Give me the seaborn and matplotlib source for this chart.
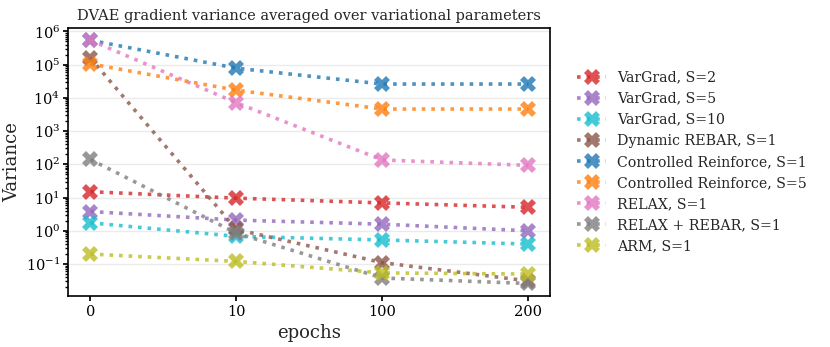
import matplotlib
matplotlib.use("Agg")
import matplotlib.pyplot as plt
import numpy as np
import pandas as pd
import seaborn as sns

epochs = ["0", "10", "100", "200"]

methods = ["VarGrad, S=2", "VarGrad, S=5", "VarGrad, S=10", "Dynamic REBAR, S=1",
           "Controlled Reinforce, S=1", "Controlled Reinforce, S=5", "RELAX, S=1",
           "RELAX + REBAR, S=1", "ARM, S=1"]

vargrad_s2 = [15.0, 9.6, 6.9, 5.1]
vargrad_s5 = [3.8, 2.1, 1.58, 1.0]
vargrad_s10 = [1.74, 0.68, 0.53, 0.40]
dynamic_rebar = [1.58e5, 1.1, 0.11, 0.031]
controlled_s1 = [5.4e5, 7.8e4, 2.6e4, 2.6e4]
controlled_s5 = [1.05e5, 1.7e4, 4.6e3, 4.6e3]
relax = [5.4e5, 7.1e3, 1.35e2, 93]
relax_rebar = [1.4e2, 0.85, 0.038, 0.026]
arm = [0.2, 0.12, 0.054, 0.05]

series = [vargrad_s2, vargrad_s5, vargrad_s10, dynamic_rebar, controlled_s1,
          controlled_s5, relax, relax_rebar, arm]

colors = ["tab:red", "tab:purple", "tab:cyan", "tab:brown", "tab:blue",
          "tab:orange", "tab:pink", "tab:gray", "tab:olive"]

rows = []
for name, vals in zip(methods, series):
    for ep, v in zip(epochs, vals):
        rows.append({"epochs": ep, "Variance": v, "method": name})
df = pd.DataFrame(rows)

custom_params = {'axes.edgecolor': 'black',
                 'axes.linewidth': 1.2,
                 'grid.color': '#ebebeb',
                 'xtick.bottom': True,
                 'ytick.left': True,
                 'xtick.color': 'black',
                 'ytick.color': 'black'}
sns.set_theme(style="whitegrid", rc=custom_params)
plt.rcParams['font.family'] = ['DejaVu Serif']
plt.rcParams['mathtext.fontset'] = 'dejavuserif'

fig, ax = plt.subplots(figsize=(8.3, 3.47), dpi=100)
fig.subplots_adjust(left=0.0825, right=0.663, top=0.919, bottom=0.148)

sns.lineplot(data=df, x="epochs", y="Variance", hue="method", hue_order=methods,
             palette=colors, ax=ax, linestyle=":", lw=2.6, marker="X",
             markersize=11.5, markeredgewidth=0, alpha=0.8, legend=False)

ax.set_yscale("log")
ax.grid(axis='x', visible=False)
ax.grid(axis='y', which='major', visible=True)
ax.tick_params(axis='y', which='both', left=True, labelsize=10.5, pad=2.5)
ax.tick_params(axis='y', which='major', length=3.5)
ax.tick_params(axis='y', which='minor', length=2)
ax.tick_params(axis='x', labelsize=10.5, length=3.5)

ax.set_title("DVAE gradient variance averaged over variational parameters", fontsize=10.5)
ax.set_xlabel("epochs", fontsize=13, labelpad=3)
ax.set_ylabel("Variance", fontsize=13, labelpad=3)

ax.legend(handles=ax.lines[:len(methods)], labels=methods, loc="center left",
          bbox_to_anchor=(1.03, 0.5), frameon=False, fontsize=10.2,
          handlelength=2.0, labelspacing=0.5)

fig.savefig("out.png", dpi=100)
